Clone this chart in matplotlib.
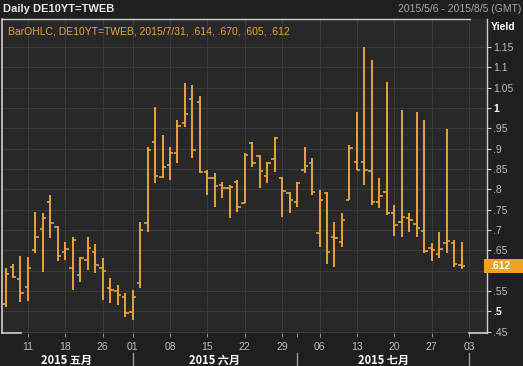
import matplotlib
matplotlib.use("Agg")
import matplotlib.pyplot as plt
import matplotlib.transforms as mtransforms
from matplotlib.patches import Rectangle
import numpy as np

# trading days shown (May 25 holiday skipped)
dates = ["05/06", "05/07", "05/08",
         "05/11", "05/12", "05/13", "05/14", "05/15",
         "05/18", "05/19", "05/20", "05/21", "05/22",
         "05/26", "05/27", "05/28", "05/29",
         "06/01", "06/02", "06/03", "06/04", "06/05",
         "06/08", "06/09", "06/10", "06/11", "06/12",
         "06/15", "06/16", "06/17", "06/18", "06/19",
         "06/22", "06/23", "06/24", "06/25", "06/26",
         "06/29", "06/30", "07/01", "07/02", "07/03",
         "07/06", "07/07", "07/08", "07/09", "07/10",
         "07/13", "07/14", "07/15", "07/16", "07/17",
         "07/20", "07/21", "07/22", "07/23", "07/24",
         "07/27", "07/28", "07/29", "07/30", "07/31"]

opens = [0.519, 0.609, 0.580, 0.560, 0.651, 0.703, 0.769, 0.708, 0.646, 0.607,
         0.590, 0.627, 0.646, 0.607, 0.558, 0.550, 0.536, 0.499, 0.570, 0.718,
         0.917, 0.831, 0.860, 0.890, 0.963, 1.022, 1.015, 0.843, 0.828, 0.811,
         0.804, 0.818, 0.767, 0.914, 0.882, 0.833, 0.875, 0.828, 0.791, 0.769,
         0.848, 0.865, 0.693, 0.791, 0.683, 0.671, 0.774, 0.867, 0.867, 0.845,
         0.769, 0.794, 0.742, 0.720, 0.730, 0.715, 0.698, 0.656, 0.641, 0.668,
         0.668, 0.614]
highs = [0.607, 0.617, 0.636, 0.634, 0.745, 0.742, 0.786, 0.710, 0.671, 0.683,
         0.634, 0.683, 0.666, 0.632, 0.582, 0.565, 0.546, 0.553, 0.720, 0.904,
         1.003, 0.934, 0.904, 0.971, 1.062, 1.057, 1.030, 0.848, 0.840, 0.818,
         0.811, 0.823, 0.890, 0.917, 0.885, 0.867, 0.929, 0.831, 0.794, 0.818,
         0.904, 0.877, 0.799, 0.794, 0.720, 0.742, 0.909, 0.990, 1.150, 1.118,
         0.828, 1.064, 0.762, 0.995, 0.742, 0.990, 0.971, 0.668, 0.695, 0.949,
         0.676, 0.670]
lows = [0.511, 0.582, 0.523, 0.526, 0.644, 0.597, 0.681, 0.624, 0.627, 0.553,
        0.573, 0.602, 0.595, 0.528, 0.521, 0.516, 0.487, 0.479, 0.558, 0.695,
        0.816, 0.828, 0.823, 0.865, 0.953, 0.877, 0.840, 0.786, 0.757, 0.779,
        0.730, 0.745, 0.767, 0.855, 0.804, 0.816, 0.843, 0.732, 0.742, 0.757,
        0.840, 0.786, 0.659, 0.617, 0.609, 0.659, 0.774, 0.848, 0.811, 0.762,
        0.754, 0.737, 0.686, 0.683, 0.695, 0.683, 0.644, 0.624, 0.632, 0.644,
        0.609, 0.605]
closes = [0.592, 0.585, 0.546, 0.607, 0.683, 0.730, 0.718, 0.636, 0.654, 0.676,
          0.632, 0.656, 0.614, 0.600, 0.553, 0.541, 0.496, 0.536, 0.700, 0.897,
          0.833, 0.855, 0.890, 0.956, 0.985, 0.897, 0.843, 0.828, 0.808, 0.804,
          0.806, 0.757, 0.885, 0.865, 0.845, 0.865, 0.926, 0.796, 0.774, 0.816,
          0.858, 0.794, 0.774, 0.646, 0.681, 0.725, 0.902, 0.848, 0.848, 0.769,
          0.784, 0.742, 0.713, 0.732, 0.725, 0.705, 0.649, 0.651, 0.654, 0.673,
          0.617, 0.612]

# x axis: trading-day index of labelled days
week_pos = [3, 8, 13, 17, 22, 27, 32, 37, 39, 42, 47, 52, 57, 62]
week_lbl = ["11", "18", "26", "01", "08", "15", "22", "29", "", "06", "13", "20", "27", "03"]
month_start = [17, 39, 62]
month_lbl = ["2015 五月", "2015 六月", "2015 七月"]
month_ctr = [8.1, 28.0, 50.5]

yticks = np.round(np.arange(0.45, 1.151, 0.05), 2)

BG = "#1f1f1f"
PANEL = "#282828"
GRID = "#3a3a3a"
ORANGE = "#e8a33d"
FRAME = "#cfcfcf"
TXT = "#bdbdbd"

plt.rcParams["font.family"] = ["Liberation Sans", "DejaVu Sans"]

fig = plt.figure(figsize=(5.23, 3.66), dpi=100, facecolor=BG)
W, H = 523, 366
ax = fig.add_axes([2 / W, (H - 333) / H, 485 / W, 314 / H], facecolor=PANEL)

x = np.arange(len(dates))
ax.vlines(x, lows, highs, color=ORANGE, lw=1.4, zorder=3)
ax.hlines(opens, x - 0.45, x, color=ORANGE, lw=1.2, zorder=3)
ax.hlines(closes, x, x + 0.45, color=ORANGE, lw=1.2, zorder=3)

ax.set_xlim(-0.47, 64.4)
ax.set_ylim(0.447, 1.219)

# grid
for v in yticks:
    ax.axhline(v, color=GRID, lw=0.8, zorder=1)
for p, l in zip(week_pos, week_lbl):
    if l:
        ax.axvline(p, color=GRID, lw=0.8, zorder=1)

# y axis on the right
ax.yaxis.tick_right()
ax.set_yticks(yticks)
ylbls = []
for v in yticks:
    s = ("%.2f" % v).rstrip("0").rstrip(".")
    if s.startswith("0"):
        s = s[1:]
    ylbls.append("" if s == ".6" else s)
ax.set_yticklabels(ylbls)
ax.tick_params(axis="y", colors=FRAME, labelcolor=TXT, length=3, width=0.8,
               pad=1.5, labelsize=7.5)
for t in ax.get_yticklabels():
    if t.get_text() in (".5", "1"):
        t.set_fontweight("bold")
        t.set_color("white")

ax.set_xticks(week_pos)
ax.set_xticklabels(week_lbl)
ax.tick_params(axis="x", colors="#8a8a8a", labelcolor=TXT, length=3, width=0.8,
               pad=3.5, labelsize=7.5)

# frame
for s in ["top", "bottom", "left"]:
    ax.spines[s].set_visible(False)
ax.spines["right"].set_color(FRAME)
ax.spines["right"].set_linewidth(1.0)
ax.plot([0, 0], [0, 1], transform=ax.transAxes, color=FRAME, lw=1.2, clip_on=False)
ax.plot([0, 0.965], [1, 1], transform=ax.transAxes, color=FRAME, lw=1.0, clip_on=False)
ax.plot([0, 0.04], [0, 0], transform=ax.transAxes, color=FRAME, lw=1.2, clip_on=False)
ax.plot([0.963, 1], [0, 0], transform=ax.transAxes, color=FRAME, lw=1.2, clip_on=False)

# month row
trans = mtransforms.blended_transform_factory(ax.transData, ax.transAxes)
for m in month_start:
    ax.plot([m, m], [-0.065, -0.115], transform=trans, color="#9a9a9a", lw=1,
            clip_on=False)
for c, l in zip(month_ctr, month_lbl):
    ax.text(c, -0.087, l, transform=trans, ha="center", va="center",
            color="white", fontsize=8, fontweight="bold",
            family=["Noto Sans CJK SC", "DejaVu Sans"])

# last value marker
last = closes[-1]
ytrans = mtransforms.blended_transform_factory(ax.transAxes, ax.transData)
ax.add_patch(Rectangle((0.993, last - 0.017), 0.09, 0.034, transform=ytrans,
                       fc="#f2a024", ec="none", clip_on=False, zorder=5))
ax.text(1.007, last, ".612", transform=ytrans, ha="left", va="center",
        color="white", fontsize=7.5, fontweight="bold", zorder=6)

# texts
fig.text(3 / W, 1 - 9 / H, "Daily DE10YT=TWEB", color="#e6e6e6", fontsize=8,
         fontweight="bold", va="center", ha="left")
fig.text(521 / W, 1 - 9 / H, "2015/5/6 - 2015/8/5 (GMT)", color="#a8a8a8",
         fontsize=7.5, va="center", ha="right")
fig.text(491 / W, 1 - 27 / H, "Yield", color="white", fontsize=7.5,
         fontweight="bold", va="center", ha="left")
ax.text(0.013, 1 - 8 / 314, "BarOHLC, DE10YT=TWEB, 2015/7/31, .614, .670, .605, .612",
        transform=ax.transAxes, color=ORANGE, fontsize=7.5, va="top", ha="left")

fig.savefig("out.png", dpi=100, facecolor=BG)
